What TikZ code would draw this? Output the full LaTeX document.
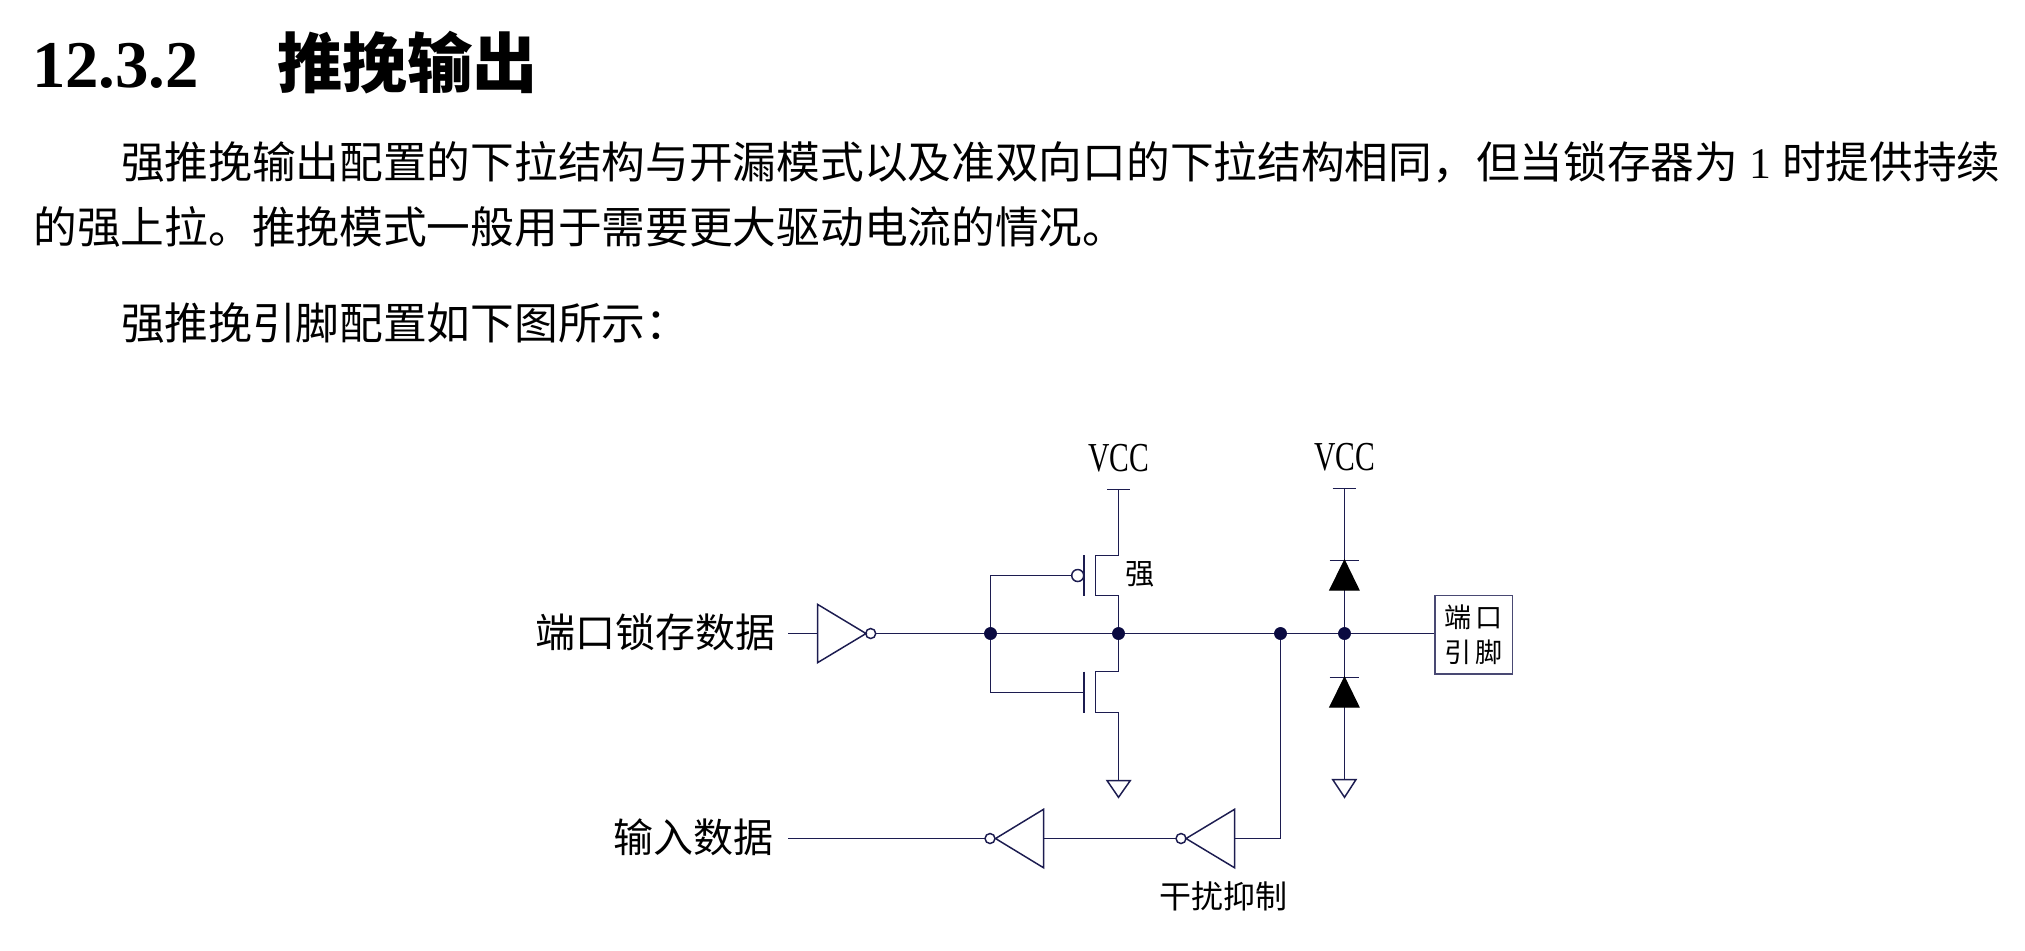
\documentclass[tikz,border=0pt]{standalone}
\usepackage{fontspec}
\usepackage{graphicx}
\setmainfont{Liberation Serif}
\newfontfamily\cjk{Noto Sans CJK SC}
\definecolor{wire}{HTML}{1C1C50}
\definecolor{dotc}{HTML}{0A0A40}
\tikzset{
  ln/.style={draw=wire,line width=0.42pt},
  txt/.style={inner sep=0pt,outer sep=0pt,anchor=base west,text=black},
  body/.style={txt,font=\fontsize{12.43}{15}\selectfont\cjk},
  lab/.style={txt,font=\fontsize{11.38}{14}\selectfont\cjk},
  vcc/.style={inner sep=0pt,anchor=base,font=\fontsize{11.7}{14}\selectfont},
  dotn/.style={circle,fill=dotc,draw=none,minimum size=1.26mm,inner sep=0pt},
  bubble/.style={circle,draw=wire,line width=0.42pt,fill=white,inner sep=0pt,outer sep=0pt,minimum size=#1},
  bubble/.default=1mm,
  pinbox/.style={draw=wire!80!white,line width=0.42pt,inner sep=0pt,minimum width=7.73mm,minimum height=7.83mm,align=center,font=\fontsize{7.7}{10}\selectfont\cjk},
  darrow/.style={fill=black,draw=black,line width=0.3pt}
}
\begin{document}
\begin{tikzpicture}[x=0.01cm,y=-0.01cm]
\useasboundingbox (0,0) rectangle (2025,950);
% heading and paragraphs
\node[txt,font=\fontsize{19}{20}\selectfont\bfseries] (h1) at (32,87) {12.3.2};
\node[txt,font=\fontsize{18.55}{20}\selectfont\cjk\bfseries] (h2) at (277,87) {推挽输出};
\node[body] (p1) at (121,178.5) {强推挽输出配置的下拉结构与开漏模式以及准双向口的下拉结构相同，但当锁存器为{\rmfamily\ 1\ }时提供持续};
\node[body] (p2) at (33.5,243.5) {的强上拉。推挽模式一般用于需要更大驱动电流的情况。};
\node[body] (p3) at (121,339.5) {强推挽引脚配置如下图所示：};
% labels
\node[lab] (l1) at (535,647) {端口锁存数据};
\node[lab] (l2) at (613,852) {输入数据};
\node[txt,font=\fontsize{9.1}{11}\selectfont\cjk] (l3) at (1159,908) {干扰抑制};
\node[txt,font=\fontsize{8.3}{10}\selectfont\cjk] (l4) at (1125,584) {强};
\node[vcc] (v1) at (1119,471.5) {\scalebox{0.72}[1]{VCC}};
\node[vcc] (v2) at (1345,470.5) {\scalebox{0.72}[1]{VCC}};
% key points
\coordinate (in1) at (788,633.5);
\coordinate (i1a) at (817.5,604.3);
\coordinate (i1b) at (817.5,662.7);
\coordinate (i1c) at (866,633.5);
\coordinate (i1m) at (817.5,633.5);
\node[dotn] (j1) at (990.5,633.5) {};
\node[dotn] (j2) at (1118.5,633.5) {};
\node[dotn] (j3) at (1280.5,633.5) {};
\node[dotn] (j4) at (1344.5,633.5) {};
\node[bubble=1mm] (b1) at (870.7,633.5) {};
\node[bubble=1.2mm] (b2) at (1077.7,575.5) {};
\node[pinbox] (pin) at (1473.7,634.8) {端\,口\\引\,脚};
% PMOS
\coordinate (g1a) at (1084,555);
\coordinate (g1b) at (1084,595.7);
\coordinate (c1a) at (1095.5,555.5);
\coordinate (c1b) at (1095.5,595.5);
\coordinate (d1a) at (1118.5,555.5);
\coordinate (d1b) at (1118.5,595.5);
\coordinate (vt1) at (1118.5,489.5);
\draw[ln] (g1a) -- (g1b);
\draw[ln] (d1a) -- (vt1);
\draw[ln] (d1a) -- (c1a) -- (c1b) -- (d1b) -- (j2.center);
\draw[ln] (1107,489.5) -- (1130.3,489.5);
\draw[ln] (j1.center) |- (b2);
% NMOS
\coordinate (g2a) at (1084,671.7);
\coordinate (g2b) at (1084,712.7);
\coordinate (g2m) at (1084,692.5);
\coordinate (c2a) at (1095.5,671.5);
\coordinate (c2b) at (1095.5,712.5);
\coordinate (d2a) at (1118.5,671.5);
\coordinate (d2b) at (1118.5,712.5);
\coordinate (gnd1) at (1118.5,780.5);
\draw[ln] (g2a) -- (g2b);
\draw[ln] (j2.center) -- (d2a) -- (c2a) -- (c2b) -- (d2b) -- (gnd1);
\draw[ln] (j1.center) |- (g2m);
\draw[ln] (1107,780.5) -- (1130.3,780.5) -- (1118.5,797.3) -- cycle;
% inverter 1
\draw[ln] (in1) -- (i1m);
\draw[ln] (i1a) -- (i1b) -- (i1c) -- cycle;
\draw[ln] (b1) -- (j1.center);
% main node line
\draw[ln] (j1.center) -- (j2.center);
\draw[ln] (j2.center) -- (j3.center) -- (j4.center) -- (j4.center -| pin.west);
% clamp diodes
\coordinate (vt2) at (1344.5,488.5);
\coordinate (gnd2) at (1344.5,779.5);
\draw[ln] (vt2) -- (j4.center) -- (gnd2);
\draw[ln] (1332.7,488.5) -- (1356,488.5);
\draw[ln] (1329.7,560.5) -- (1359,560.5);
\draw[darrow] (1344.5,560.3) -- (1359,590) -- (1329.7,590) -- cycle;
\draw[ln] (1329.7,677.5) -- (1359,677.5);
\draw[darrow] (1344.5,677.3) -- (1359,707) -- (1329.7,707) -- cycle;
\draw[ln] (1332.7,779.5) -- (1356,779.5) -- (1344.5,797.3) -- cycle;
% input chain
\node[bubble=1mm] (b3) at (990,838.5) {};
\node[bubble=1mm] (b4) at (1181,838.5) {};
\coordinate (i2m) at (1043.5,838.5);
\coordinate (i3m) at (1234.5,838.5);
\coordinate (out2) at (788.4,838.5);
\draw[ln] (995.5,838.5) -- (1043.5,809.3) -- (1043.5,867.7) -- cycle;
\draw[ln] (1186,838.5) -- (1234.5,809.3) -- (1234.5,867.7) -- cycle;
\draw[ln] (j3.center) |- (i3m);
\draw[ln] (b4) -- (i2m);
\draw[ln] (b3) -- (out2);
\node[dotn] at (j1) {};
\node[dotn] at (j2) {};
\node[dotn] at (j3) {};
\node[dotn] at (j4) {};
\end{tikzpicture}
\end{document}
